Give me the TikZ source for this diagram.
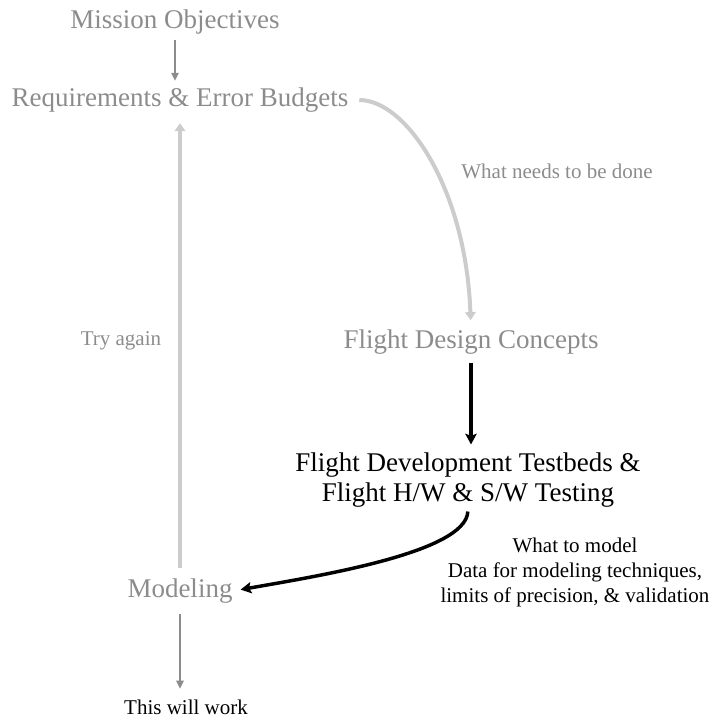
\documentclass[tikz,border=0pt]{standalone}
\usepackage{fontspec}
\setmainfont{Liberation Serif}
\usetikzlibrary{arrows.meta}
\definecolor{stagegray}{HTML}{8C8C8C}
\definecolor{loopgray}{HTML}{CCCCCC}
\tikzset{
  stage/.style={inner sep=0pt, text=stagegray, font=\fontsize{20.25}{22.5}\selectfont},
  activestage/.style={inner sep=0pt, align=center, font=\fontsize{20.25}{22.5}\selectfont},
  note/.style={inner sep=0pt, text=stagegray, font=\fontsize{15.75}{18}\selectfont},
  outnote/.style={inner sep=0pt, align=center, font=\fontsize{15.75}{18.75}\selectfont},
  thinarrow/.style={draw=stagegray, line width=1.2pt, -{Triangle[length=6pt,width=5.5pt]}},
  looparrow/.style={draw=loopgray, line width=3pt, -{Triangle[length=6pt,width=8pt]}},
  blackarrow/.style={draw=black, line width=2.6pt, -{Stealth[length=8pt,width=8.5pt,inset=1.5pt]}}
}
\begin{document}
\begin{tikzpicture}[x=0.75pt, y=-0.75pt]
    \useasboundingbox (0,0) rectangle (714,717);
    \node [stage] (mission) at (175,22) {Mission Objectives};
    \node [stage] (req) at (180,100) {Requirements \& Error Budgets};
    \node [stage] (fdc) at (471,342) {Flight Design Concepts};
    \node [activestage] (tst) at (468,480)
      {Flight Development Testbeds \&\\Flight H/W \& S/W Testing};
    \node [stage] (mod) at (180,591) {Modeling};
    \node [inner sep=0pt, font=\fontsize{15.75}{18}\selectfont] (work) at (186,707) {This will work};
    \node [note] (done) at (557,171) {What needs to be done};
    \node [note] (again) at (121,341) {Try again};
    \node [outnote] (what) at (575,572)
      {What to model\\Data for modeling techniques,\\limits of precision, \& validation};
    \draw [thinarrow, shorten <=4pt, shorten >=5pt]
      (mission.south) -- (mission.south |- req.north);
    \draw [looparrow, shorten <=8pt, shorten >=7pt]
      (req.east) .. controls +(58,0) and +(-5,-140) .. (fdc.north);
    \draw [blackarrow, shorten <=6pt, shorten >=6pt]
      (fdc.south) -- (fdc.south |- tst.north);
    \draw [blackarrow, shorten <=3pt, shorten >=6pt]
      (tst.south) .. controls +(-2,45) and +(85,-15) .. (mod.east);
    \draw [looparrow, shorten <=8pt, shorten >=8pt]
      (mod.north) -- (mod.north |- req.south);
    \draw [thinarrow, shorten <=8pt, shorten >=8pt]
      (mod.south) -- (mod.south |- work.north);
\end{tikzpicture}
\end{document}
